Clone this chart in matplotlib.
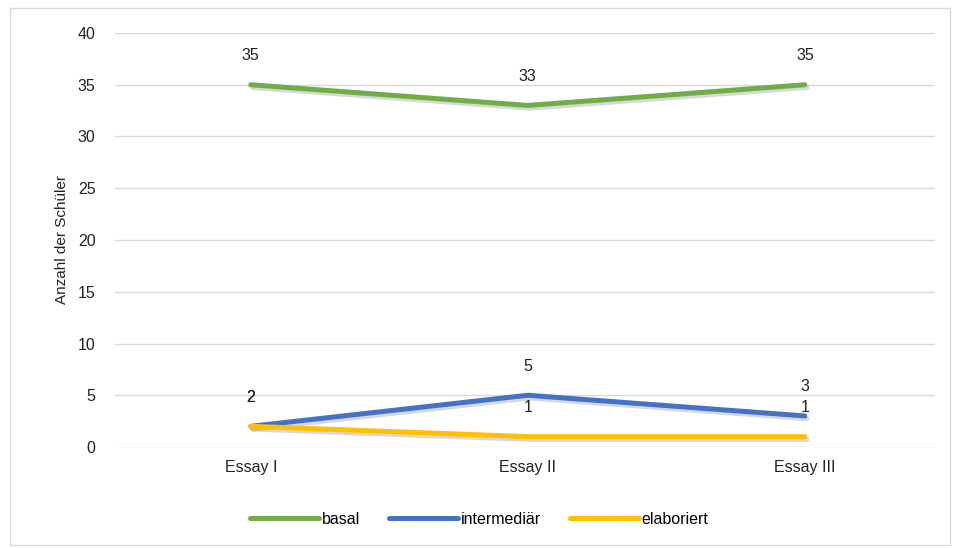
import matplotlib.pyplot as plt
import matplotlib.patheffects as pe
from matplotlib.patches import Rectangle

plt.rcParams['font.family'] = ['Liberation Sans', 'DejaVu Sans']

essays = ["Essay I", "Essay II", "Essay III"]
basal = [35, 33, 35]
intermediaer = [2, 5, 3]
elaboriert = [2, 1, 1]
series = [("basal", basal, "#70AD47"),
          ("intermediär", intermediaer, "#4472C4"),
          ("elaboriert", elaboriert, "#FFC000")]

fig = plt.figure(figsize=(9.59, 5.48), dpi=100)
ax = fig.add_axes([0.12, 0.1843, 0.855, 0.7555])

x = list(range(len(essays)))
shadow = [pe.SimpleLineShadow(offset=(1.5, -2), alpha=0.3, shadow_color="gray"), pe.Normal()]
for name, vals, col in series:
    ax.plot(x, vals, color=col, lw=3.6, solid_capstyle="round", label=name,
            path_effects=shadow, zorder=3)
    for xi, v in zip(x, vals):
        ax.annotate(str(v), (xi, v), xytext=(0, 21), textcoords="offset points",
                    ha="center", va="center", fontsize=11.5, color="#222222")

ax.set_xlim(-0.49, 2.47)
ax.set_ylim(0, 40)
ax.set_yticks(range(0, 41, 5))
ax.set_xticks(x)
ax.set_xticklabels(essays)
ax.yaxis.grid(True, color="#d9d9d9", lw=1)
ax.set_axisbelow(True)
for s in ax.spines.values():
    s.set_visible(False)
ax.tick_params(length=0, labelsize=11.5, colors="#222222")
ax.tick_params(axis="y", pad=14)
ax.tick_params(axis="x", pad=9)
ax.set_ylabel("Anzahl der Schüler", fontsize=11, color="#222222", labelpad=6)

leg = fig.legend(loc="center", bbox_to_anchor=(0.5, 0.052), ncol=3, frameon=False,
                 fontsize=11.5, handlelength=4.3, handletextpad=0.2, columnspacing=1.8)
for h in leg.get_lines():
    h.set_linewidth(3.6)
    h.set_path_effects([])

fig.patches.append(Rectangle((10 / 959, 3 / 548), 940 / 959, 537 / 548, transform=fig.transFigure,
                             fill=False, edgecolor="#d9d9d9", lw=1))

fig.savefig("out.png", dpi=100)
